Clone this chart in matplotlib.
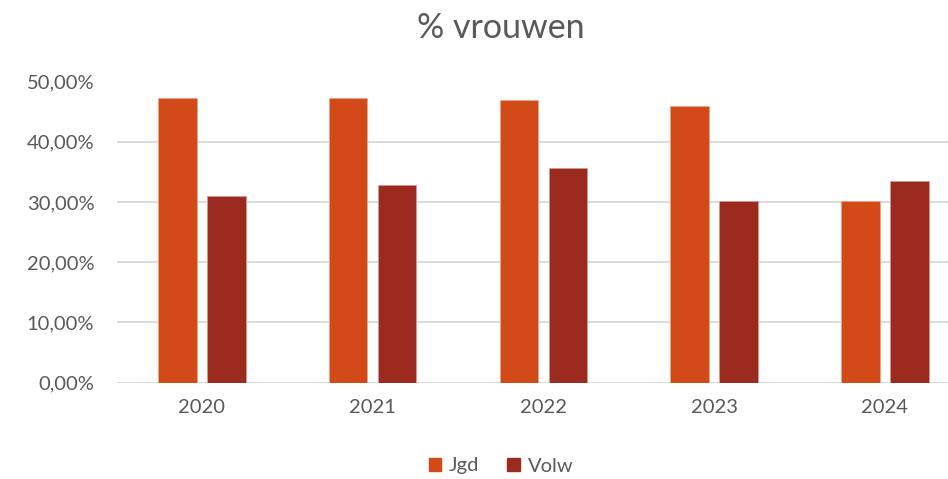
import matplotlib
matplotlib.use("Agg")
import matplotlib.pyplot as plt
from matplotlib.ticker import FuncFormatter, MultipleLocator
from matplotlib.patches import Patch
import numpy as np

years = ["2020", "2021", "2022", "2023", "2024"]
jgd = [0.473, 0.472, 0.469, 0.460, 0.302]
volw = [0.309, 0.3275, 0.357, 0.301, 0.334]

c_jgd = "#D24A17"
c_volw = "#9B2B1F"
grey = "#595959"

plt.rcParams["font.family"] = ["Lato", "DejaVu Sans"]

fig = plt.figure(figsize=(9.48, 4.79), dpi=100)
ax = fig.add_axes([116.5 / 948, 96.5 / 479, 853.75 / 948, 301 / 479])

x = np.arange(len(years))
w = 0.2255
off = 0.1435
ax.bar(x - off, jgd, w, color=c_jgd, edgecolor="#E8A58C", linewidth=0.6, zorder=3)
ax.bar(x + off, volw, w, color=c_volw, edgecolor="#D49A92", linewidth=0.6, zorder=3)

ax.set_xlim(-0.5, len(years) - 0.5)
ax.set_ylim(0, 0.5)
ax.yaxis.set_major_locator(MultipleLocator(0.1))
ax.yaxis.set_major_formatter(FuncFormatter(lambda v, p: f"{v * 100:.2f}%".replace(".", ",")))
ax.set_xticks(x)
ax.set_xticklabels(years)
ax.grid(axis="y", color="#D9D9D9", linewidth=1.3, zorder=0)
ax.set_axisbelow(True)
for s in ax.spines.values():
    s.set_visible(False)
ax.tick_params(axis="both", length=0, colors=grey, labelsize=14.5)
ax.tick_params(axis="y", pad=16)
ax.tick_params(axis="x", pad=12)

fig.text(501 / 948, 1 - 28 / 479, "% vrouwen", ha="center", va="center", fontsize=24.5, color=grey)

handles = [Patch(color=c_jgd, label="Jgd"), Patch(color=c_volw, label="Volw")]
fig.legend(handles=handles, loc="center", bbox_to_anchor=(501 / 948, 13 / 479), ncol=2,
           frameon=False, fontsize=14.5, labelcolor=grey, handlelength=0.6, handleheight=0.6,
           handletextpad=0.4, columnspacing=1.4)

fig.savefig("out.png", dpi=100)
